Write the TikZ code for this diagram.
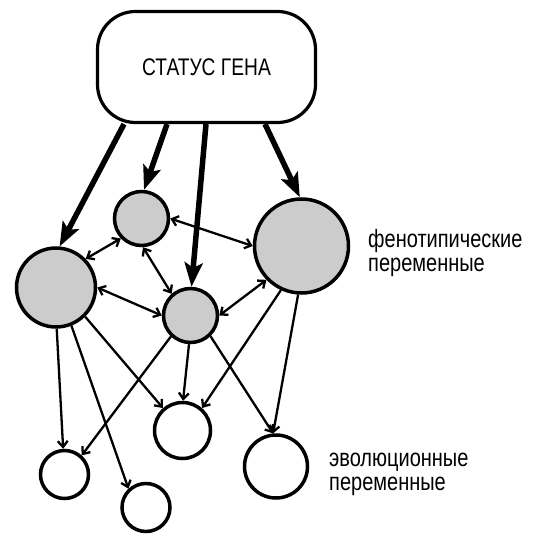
\documentclass[tikz,border=0pt]{standalone}
\usepackage{fontspec}
\setmainfont{Liberation Sans}[FakeStretch=0.8]
\usetikzlibrary{arrows.meta}

\begin{document}
\begin{tikzpicture}[x=1pt,y=-1pt,
  gene/.style={draw,line width=3.2pt,rounded corners=38pt,minimum width=218pt,minimum height=111pt,font=\fontsize{24}{24}\selectfont},
  pheno/.style={draw,circle,line width=3.5pt,fill=black!20,inner sep=0pt},
  evo/.style={draw,circle,line width=3.5pt,fill=white,inner sep=0pt},
  heavy/.style={line width=5.5pt,-{Stealth[length=24pt,width=18pt,inset=5pt]}},
  link/.style={line width=2.3pt,{Straight Barb[length=6pt,width=10pt]}-{Straight Barb[length=6pt,width=10pt]}},
  flow/.style={line width=2.3pt,-{Straight Barb[length=6pt,width=10pt]}},
  varname/.style={align=left,inner sep=0pt,anchor=west,font=\fontsize{25}{24}\selectfont}]
\useasboundingbox (0,0) rectangle (543,545);
% gene status and variables
\node[gene] (gene) at (206.5,67) {СТАТУС ГЕНА};
\node[pheno,minimum size=54pt] (p1) at (141.5,218.5) {};
\node[pheno,minimum size=79pt] (p2) at (56,287.5) {};
\node[pheno,minimum size=54pt] (p3) at (190.5,315.5) {};
\node[pheno,minimum size=94pt] (p4) at (301.5,246) {};
\node[evo,minimum size=48pt] (e1) at (64.5,474.5) {};
\node[evo,minimum size=48pt] (e2) at (146,507.5) {};
\node[evo,minimum size=56pt] (e3) at (182.5,430.5) {};
\node[evo,minimum size=63pt] (e4) at (276,466.5) {};
% gene to phenotype
\draw[heavy] ([xshift=-82.5pt]gene.south) -- (p2.85);
\draw[heavy] ([xshift=-39.5pt]gene.south) -- (p1.85);
\draw[heavy] ([xshift=-0.5pt]gene.south) -- (p3.88);
\draw[heavy] ([xshift=58.5pt]gene.south) -- (p4.92);
% phenotype links
\draw[link] (p1.224) -- (p2.44);
\draw[link] (p1.0) -- (p4.180);
\draw[link] (p1.-87) -- (p3.131);
\draw[link] (p2.0) -- (p3.180);
\draw[link] (p3.0) -- (p4.224);
% phenotype to evolution
\draw[flow] (p2.-89) -- (e1.93);
\draw[flow] (p2.-68) -- (e2.133);
\draw[flow] (p2.-45) -- (e3.131);
\draw[flow] (p3.227) -- (e1.48);
\draw[flow] (p3.-93) -- (e3.89);
\draw[flow] (p3.-46) -- (e4.95);
\draw[flow] (p4.-115) -- (e3.49);
\draw[flow] (p4.-94) -- (e4.95);
% labels
\node[varname] (phenolab) at (368,253.5) {фенотипические\\переменные};
\node[varname] (evolab) at (329,474) {эволюционные\\переменные};
\end{tikzpicture}
\end{document}
